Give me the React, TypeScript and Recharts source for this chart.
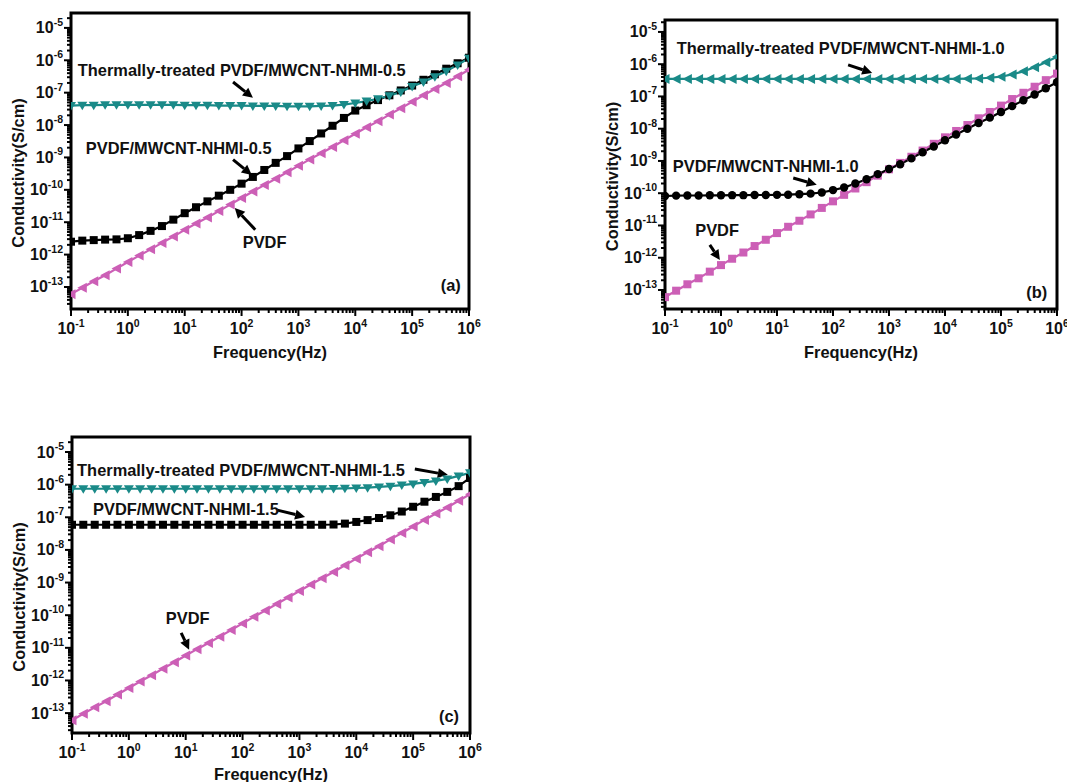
import React from 'react';
import { LineChart, Line, XAxis, YAxis, ReferenceArea, ReferenceDot, ReferenceLine, Label } from 'recharts';

// Frequency (Hz), 5 points per decade
const FREQ = [0.1, 0.158, 0.251, 0.398, 0.631, 1, 1.58, 2.51, 3.98, 6.31, 10, 15.8, 25.1, 39.8, 63.1, 100, 158, 251, 398, 631, 1000, 1580, 2510, 3980, 6310, 10000, 15800, 25100, 39800, 63100, 100000, 158000, 251000, 398000, 631000, 1000000];

// Conductivity (S/cm)
const PVDF = [6.0e-14, 9.5e-14, 1.5e-13, 2.3e-13, 3.7e-13, 5.9e-13, 9.3e-13, 1.45e-12, 2.3e-12, 3.6e-12, 5.8e-12, 9.1e-12, 1.4e-11, 2.2e-11, 3.5e-11, 5.6e-11, 8.9e-11, 1.4e-10, 2.2e-10, 3.5e-10, 5.5e-10, 8.7e-10, 1.35e-9, 2.1e-9, 3.4e-9, 5.4e-9, 8.5e-9, 1.3e-8, 2.1e-8, 3.3e-8, 5.2e-8, 8.3e-8, 1.3e-7, 2.0e-7, 3.2e-7, 5.1e-7];

const NHMI_05 = [2.5e-12, 2.7e-12, 2.8e-12, 2.9e-12, 2.95e-12, 3.2e-12, 4.0e-12, 5.4e-12, 7.6e-12, 1.2e-11, 1.9e-11, 2.9e-11, 4.4e-11, 6.6e-11, 1.0e-10, 1.55e-10, 2.5e-10, 4.1e-10, 6.8e-10, 1.1e-9, 1.9e-9, 3.2e-9, 5.5e-9, 9.5e-9, 1.66e-8, 2.8e-8, 4.1e-8, 5.9e-8, 8.3e-8, 1.17e-7, 1.66e-7, 2.5e-7, 3.7e-7, 5.5e-7, 8.1e-7, 1.2e-6];
const TT_05 = [4.0e-8, 4.1e-8, 4.1e-8, 4.2e-8, 4.2e-8, 4.2e-8, 4.2e-8, 4.2e-8, 4.2e-8, 4.2e-8, 4.1e-8, 4.1e-8, 4.1e-8, 4.0e-8, 4.0e-8, 4.0e-8, 3.9e-8, 3.9e-8, 3.9e-8, 3.8e-8, 3.8e-8, 3.8e-8, 3.9e-8, 4.0e-8, 4.3e-8, 4.8e-8, 5.5e-8, 6.5e-8, 8.0e-8, 1.05e-7, 1.55e-7, 2.15e-7, 3.1e-7, 4.6e-7, 7.2e-7, 1.15e-6];

const NHMI_10 = [8.2e-11, 8.4e-11, 8.5e-11, 8.5e-11, 8.6e-11, 8.6e-11, 8.7e-11, 8.7e-11, 8.8e-11, 8.8e-11, 8.9e-11, 9.0e-11, 9.3e-11, 9.7e-11, 1.05e-10, 1.25e-10, 1.5e-10, 2.0e-10, 2.7e-10, 3.9e-10, 5.6e-10, 7.9e-10, 1.2e-9, 1.86e-9, 2.8e-9, 4.4e-9, 6.6e-9, 1.0e-8, 1.5e-8, 2.2e-8, 3.3e-8, 5.0e-8, 7.6e-8, 1.15e-7, 1.8e-7, 2.75e-7];
const TT_10 = [3.5e-7, 3.5e-7, 3.5e-7, 3.5e-7, 3.5e-7, 3.5e-7, 3.5e-7, 3.5e-7, 3.5e-7, 3.5e-7, 3.5e-7, 3.5e-7, 3.5e-7, 3.5e-7, 3.5e-7, 3.5e-7, 3.5e-7, 3.5e-7, 3.5e-7, 3.5e-7, 3.5e-7, 3.5e-7, 3.5e-7, 3.5e-7, 3.5e-7, 3.5e-7, 3.5e-7, 3.55e-7, 3.6e-7, 3.8e-7, 4.1e-7, 4.8e-7, 6.0e-7, 8.0e-7, 1.15e-6, 1.7e-6];

const NHMI_15 = [5.9e-8, 5.9e-8, 5.9e-8, 5.9e-8, 5.9e-8, 5.9e-8, 5.9e-8, 5.9e-8, 5.9e-8, 5.9e-8, 5.9e-8, 5.9e-8, 5.9e-8, 5.9e-8, 5.9e-8, 5.9e-8, 5.9e-8, 5.9e-8, 5.9e-8, 5.9e-8, 5.9e-8, 5.9e-8, 5.9e-8, 6.0e-8, 6.4e-8, 7.2e-8, 8.2e-8, 9.5e-8, 1.15e-7, 1.5e-7, 2.1e-7, 3.0e-7, 4.2e-7, 6.0e-7, 9.0e-7, 1.6e-6];
const TT_15 = [7.5e-7, 7.5e-7, 7.5e-7, 7.5e-7, 7.5e-7, 7.5e-7, 7.5e-7, 7.5e-7, 7.5e-7, 7.5e-7, 7.5e-7, 7.5e-7, 7.5e-7, 7.5e-7, 7.5e-7, 7.5e-7, 7.5e-7, 7.5e-7, 7.5e-7, 7.5e-7, 7.5e-7, 7.5e-7, 7.5e-7, 7.6e-7, 7.7e-7, 7.9e-7, 8.1e-7, 8.5e-7, 9.0e-7, 9.7e-7, 1.05e-6, 1.17e-6, 1.3e-6, 1.5e-6, 1.85e-6, 2.3e-6];

// Axis tick exponents
const X_EXP = [-1, 0, 1, 2, 3, 4, 5, 6];
const Y_EXP = [-14, -13, -12, -11, -10, -9, -8, -7, -6, -5];

const TEAL = '#1a8a88';
const MAGENTA = '#cc5fb6';
const BLACK = '#000000';
const FONT = '"Liberation Sans", Arial, sans-serif';

const P = (e: number) => Math.pow(10, e);

const buildTicks = (exps: number[], lo: number, hi: number) => {
  const out: number[] = [];
  exps.forEach((e) => {
    for (let k = 1; k <= 9; k++) {
      const v = k * P(e);
      const le = Math.log10(v);
      if (le >= lo - 1e-9 && le <= hi + 1e-9) out.push(v);
    }
  });
  return out;
};

const isMajor = (v: number) => {
  const e = Math.log10(v);
  return Math.abs(e - Math.round(e)) < 1e-6;
};

const XTick = (p: any) => {
  const { x, y, payload } = p;
  const v = payload.value;
  const major = isMajor(v);
  const e = Math.round(Math.log10(v));
  return (
    <g>
      <line x1={x} x2={x} y1={y} y2={y + (major ? 7 : 4)} stroke="#000" strokeWidth={2} />
      {major && (
        <text x={x} y={y + 25} textAnchor="middle" fontSize={16} fontWeight="bold" fontFamily={FONT} fill="#111">
          <tspan>10</tspan>
          <tspan dy={-7} fontSize={10.5}>{e}</tspan>
        </text>
      )}
    </g>
  );
};

const YTick = (p: any) => {
  const { x, y, payload } = p;
  const v = payload.value;
  const major = isMajor(v);
  const e = Math.round(Math.log10(v));
  return (
    <g>
      <line x1={x} x2={x - (major ? 7 : 4)} y1={y} y2={y} stroke="#000" strokeWidth={2} />
      {major && (
        <text x={x - 8} y={y + 5.5} textAnchor="end" fontSize={16} fontWeight="bold" fontFamily={FONT} fill="#111">
          <tspan>10</tspan>
          <tspan dy={-7.5} fontSize={10.5}>{e}</tspan>
        </text>
      )}
    </g>
  );
};

const makeDot = (shape: string, color: string) => (props: any) => {
  const { cx, cy, index } = props;
  if (cx == null || cy == null) return <g key={index} />;
  if (shape === 'square') return <rect key={index} x={cx - 4} y={cy - 4} width={8} height={8} fill={color} />;
  if (shape === 'circle') return <circle key={index} cx={cx} cy={cy} r={4.2} fill={color} />;
  if (shape === 'down')
    return <polygon key={index} points={`${cx - 5},${cy - 3.5} ${cx + 5},${cy - 3.5} ${cx},${cy + 5}`} fill={color} />;
  return <polygon key={index} points={`${cx + 4.5},${cy - 5} ${cx + 4.5},${cy + 5} ${cx - 5},${cy}`} fill={color} />;
};

const ArrowShape = (p: any) => {
  const { x1, y1, x2, y2 } = p;
  const dx = x2 - x1;
  const dy = y2 - y1;
  const L = Math.hypot(dx, dy) || 1;
  const ux = dx / L;
  const uy = dy / L;
  const hl = 10;
  const hw = 5;
  const bx = x2 - ux * hl;
  const by = y2 - uy * hl;
  const px = -uy;
  const py = ux;
  return (
    <g>
      <line x1={x1} y1={y1} x2={bx} y2={by} stroke="#000" strokeWidth={3} />
      <polygon points={`${x2},${y2} ${bx + px * hw},${by + py * hw} ${bx - px * hw},${by - py * hw}`} fill="#000" />
    </g>
  );
};

const textShape = (text: string, anchor: string) => (p: any) => (
  <text x={p.cx} y={p.cy} textAnchor={anchor} dominantBaseline="central" fontSize={16.4} fontWeight="bold" fontFamily={FONT} fill="#111">
    {text}
  </text>
);

type Series = { key: string; values: number[]; color: string; shape: string };
type Panel = {
  id: string;
  left: number;
  top: number;
  width: number;
  height: number;
  margin: { top: number; right: number; bottom: number; left: number };
  yLo: number;
  yHi: number;
  xTitleDy: number;
  series: Series[];
  texts: { x: number; y: number; text: string; anchor: string }[];
  arrows: { x1: number; y1: number; x2: number; y2: number }[];
};

const PANELS: Panel[] = [
  {
    id: 'a', left: 0, top: 0, width: 500, height: 375,
    margin: { top: 13, right: 31, bottom: 26, left: 11 },
    yLo: -13.68, yHi: -4.54, xTitleDy: 43,
    series: [
      { key: 'pvdf', values: PVDF, color: MAGENTA, shape: 'left' },
      { key: 'nhmi', values: NHMI_05, color: BLACK, shape: 'square' },
      { key: 'tt', values: TT_05, color: TEAL, shape: 'down' },
    ],
    texts: [
      { x: -0.88, y: -6.3, text: 'Thermally-treated PVDF/MWCNT-NHMI-0.5', anchor: 'start' },
      { x: -0.74, y: -8.7, text: 'PVDF/MWCNT-NHMI-0.5', anchor: 'start' },
      { x: 2.02, y: -11.6, text: 'PVDF', anchor: 'start' },
      { x: 5.68, y: -12.94, text: '(a)', anchor: 'middle' },
    ],
    arrows: [
      { x1: 1.85, y1: -6.67, x2: 2.2, y2: -7.16 },
      { x1: 1.85, y1: -9.07, x2: 2.18, y2: -9.54 },
      { x1: 2.24, y1: -11.23, x2: 1.88, y2: -10.56 },
    ],
  },
  {
    id: 'b', left: 594, top: 0, width: 494, height: 375,
    margin: { top: 20, right: 31, bottom: 26, left: 11 },
    yLo: -13.59, yHi: -4.63, xTitleDy: 43,
    series: [
      { key: 'pvdf', values: PVDF, color: MAGENTA, shape: 'square' },
      { key: 'nhmi', values: NHMI_10, color: BLACK, shape: 'circle' },
      { key: 'tt', values: TT_10, color: TEAL, shape: 'left' },
    ],
    texts: [
      { x: -0.79, y: -5.5, text: 'Thermally-treated PVDF/MWCNT-NHMI-1.0', anchor: 'start' },
      { x: -0.86, y: -9.15, text: 'PVDF/MWCNT-NHMI-1.0', anchor: 'start' },
      { x: -0.46, y: -11.14, text: 'PVDF', anchor: 'start' },
      { x: 5.64, y: -13.06, text: '(b)', anchor: 'middle' },
    ],
    arrows: [
      { x1: 2.27, y1: -6.02, x2: 2.7, y2: -6.27 },
      { x1: 1.29, y1: -9.53, x2: 1.71, y2: -9.74 },
      { x1: -0.2, y1: -11.6, x2: -0.02, y2: -12.07 },
    ],
  },
  {
    id: 'c', left: 0, top: 424, width: 501, height: 358,
    margin: { top: 13, right: 31, bottom: 9, left: 12 },
    yLo: -13.61, yHi: -4.54, xTitleDy: 41,
    series: [
      { key: 'pvdf', values: PVDF, color: MAGENTA, shape: 'left' },
      { key: 'nhmi', values: NHMI_15, color: BLACK, shape: 'square' },
      { key: 'tt', values: TT_15, color: TEAL, shape: 'down' },
    ],
    texts: [
      { x: -0.91, y: -5.55, text: 'Thermally-treated PVDF/MWCNT-NHMI-1.5', anchor: 'start' },
      { x: -0.63, y: -6.74, text: 'PVDF/MWCNT-NHMI-1.5', anchor: 'start' },
      { x: 0.65, y: -10.08, text: 'PVDF', anchor: 'start' },
      { x: 5.63, y: -13.08, text: '(c)', anchor: 'middle' },
    ],
    arrows: [
      { x1: 5.03, y1: -5.52, x2: 5.61, y2: -5.7 },
      { x1: 2.61, y1: -6.78, x2: 3.1, y2: -6.99 },
      { x1: 0.92, y1: -10.54, x2: 1.06, y2: -11.06 },
    ],
  },
];

const X_LO = -1;
const X_HI = 6;

const PanelChart = ({ panel }: { panel: Panel }) => {
  const data = FREQ.map((f, i) => {
    const row: any = { f };
    panel.series.forEach((s) => {
      row[s.key] = s.values[i];
    });
    return row;
  });
  const xTicks = buildTicks(X_EXP, X_LO, X_HI);
  const yTicks = buildTicks(Y_EXP, panel.yLo, panel.yHi);
  const yDomain = [P(panel.yLo), P(panel.yHi)];
  return (
    <div style={{ position: 'absolute', left: panel.left, top: panel.top }}>
      <LineChart width={panel.width} height={panel.height} data={data} margin={panel.margin}>
        <XAxis
          dataKey="f"
          type="number"
          scale="log"
          domain={[P(X_LO), P(X_HI)]}
          allowDataOverflow
          ticks={xTicks}
          interval={0}
          tick={XTick}
          tickSize={0}
          tickMargin={0}
          tickLine={false}
          axisLine={false}
          height={40}
        >
          <Label
            content={(props: any) => {
              const vb = props.viewBox;
              return (
                <text x={vb.x + vb.width / 2} y={vb.y + panel.xTitleDy} textAnchor="middle" dominantBaseline="central" fontSize={16.4} fontWeight="bold" fontFamily={FONT} fill="#111">
                  Frequency(Hz)
                </text>
              );
            }}
          />
        </XAxis>
        <YAxis
          type="number"
          scale="log"
          domain={yDomain}
          allowDataOverflow
          ticks={yTicks}
          interval={0}
          tick={YTick}
          tickSize={0}
          tickMargin={0}
          tickLine={false}
          axisLine={false}
          width={60}
        >
          <Label
            content={(props: any) => {
              const vb = props.viewBox;
              const cx = vb.x + 7;
              const cy = vb.y + vb.height / 2 + 12;
              return (
                <text x={cx} y={cy} transform={`rotate(-90 ${cx} ${cy})`} textAnchor="middle" dominantBaseline="central" fontSize={16.4} fontWeight="bold" fontFamily={FONT} fill="#111">
                  Conductivity(S/cm)
                </text>
              );
            }}
          />
        </YAxis>
        {panel.series.map((s) => (
          <Line
            key={s.key}
            dataKey={s.key}
            type="linear"
            stroke={s.color}
            strokeWidth={2.2}
            dot={makeDot(s.shape, s.color)}
            activeDot={false}
            isAnimationActive={false}
          />
        ))}
        {panel.arrows.map((a, i) => (
          <ReferenceLine
            key={'ar' + i}
            segment={[{ x: P(a.x1), y: P(a.y1) }, { x: P(a.x2), y: P(a.y2) }]}
            ifOverflow="visible"
            shape={ArrowShape}
          />
        ))}
        {panel.texts.map((t, i) => (
          <ReferenceDot
            key={'tx' + i}
            x={P(t.x)}
            y={P(t.y)}
            r={0}
            ifOverflow="visible"
            shape={textShape(t.text, t.anchor)}
          />
        ))}
        <ReferenceArea
          x1={P(X_LO)}
          x2={P(X_HI)}
          y1={yDomain[0]}
          y2={yDomain[1]}
          fill="none"
          fillOpacity={0}
          stroke="#000"
          strokeWidth={3}
          ifOverflow="visible"
        />
      </LineChart>
    </div>
  );
};

export default function App() {
  return (
    <div style={{ position: 'fixed', left: 0, top: 0, width: 1067, height: 782, background: '#fff', overflow: 'hidden', fontFamily: FONT }}>
      {PANELS.map((p) => (
        <PanelChart key={p.id} panel={p} />
      ))}
    </div>
  );
}
